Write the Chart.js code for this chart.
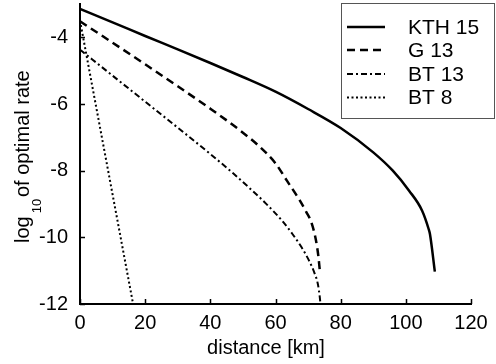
<!DOCTYPE html>
<html>
<head>
<meta charset="utf-8">
<script src="https://cdn.jsdelivr.net/npm/chart.js@4.4.0/dist/chart.umd.min.js"></script>
<style>
    html, body { margin: 0; padding: 0; background: #fff; }
    #wrap { width: 496px; height: 364px; }
</style>
</head>
<body>
<div id="wrap"><canvas id="rate-chart" width="496" height="364"></canvas></div>
<script>
// distance [km] vs log10 of optimal rate
const kthKm  = [0, 10, 20, 30, 40, 50, 60, 70, 80, 90, 96, 101, 105, 107, 107.4, 108.9];
const kthLog = [-3.15, -3.55, -3.96, -4.36, -4.77, -5.19, -5.63, -6.15, -6.72, -7.45, -8.0, -8.6, -9.2, -9.75, -9.9, -11.03];

const g13Km  = [0, 10, 20, 30, 40, 50, 55, 60, 63.5, 67.3, 69.5, 71, 72.4, 73.2, 73.6];
const g13Log = [-3.52, -4.16, -4.81, -5.47, -6.14, -6.86, -7.27, -7.78, -8.3, -8.87, -9.25, -9.55, -10.08, -10.6, -11.0];

const bt13Km  = [0, 10, 20, 30, 40, 47, 52, 57, 62, 65.2, 68, 70.3, 72, 73, 73.6, 73.8];
const bt13Log = [-4.37, -5.15, -5.93, -6.71, -7.5, -8.08, -8.52, -8.98, -9.5, -9.9, -10.3, -10.7, -11.08, -11.4, -11.8, -12];

const bt8Km  = [0, 16.3];
const bt8Log = [-3.5, -12];

const seriesNames = ['KTH 15', 'G 13', 'BT 13', 'BT 8'];
const xTicks = [0, 20, 40, 60, 80, 100, 120];
const yTicks = [-12, -10, -8, -6, -4];

const FONT = "'Liberation Sans', Arial, Helvetica, sans-serif";

function toPoints(xs, ys) {
    return xs.map((x, i) => ({ x: x, y: ys[i] }));
}

// small tick marks pointing into the plot
const inwardTicks = {
    id: 'inwardTicks',
    afterDraw(chart) {
        const { ctx, chartArea, scales } = chart;
        ctx.save();
        ctx.strokeStyle = '#000';
        ctx.lineWidth = 1.5;
        ctx.beginPath();
        xTicks.forEach(v => {
            const px = Math.round(scales.x.getPixelForValue(v)) + 0.5;
            ctx.moveTo(px, chartArea.bottom);
            ctx.lineTo(px, chartArea.bottom - 5);
        });
        yTicks.forEach(v => {
            const py = Math.round(scales.y.getPixelForValue(v)) + 0.5;
            ctx.moveTo(chartArea.left, py);
            ctx.lineTo(chartArea.left + 5, py);
        });
        ctx.stroke();
        ctx.restore();
    }
};

// axis titles, the y one with a subscript 10
const axisTitles = {
    id: 'axisTitles',
    afterDraw(chart) {
        const ctx = chart.ctx;
        ctx.save();
        ctx.fillStyle = '#000';
        ctx.textBaseline = 'alphabetic';

        ctx.font = '20px ' + FONT;
        ctx.textAlign = 'center';
        ctx.fillText('distance [km]', 266, 354);

        ctx.translate(29, 243);
        ctx.rotate(-Math.PI / 2);
        ctx.textAlign = 'left';
        ctx.font = '20px ' + FONT;
        ctx.fillText('log', 0, 0);
        let x = ctx.measureText('log').width + 3;
        ctx.font = '13px ' + FONT;
        ctx.fillText('10', x, 12);
        ctx.font = '20px ' + FONT;
        ctx.fillText('of optimal rate', 46, 0);
        ctx.restore();
    }
};

// framed legend in the upper right corner
const boxLegend = {
    id: 'boxLegend',
    afterDraw(chart) {
        const ctx = chart.ctx;
        const rows = [27, 50, 74, 97.5];
        ctx.save();
        ctx.fillStyle = '#fff';
        ctx.fillRect(341, 3, 154, 116);
        ctx.strokeStyle = '#555';
        ctx.lineWidth = 1;
        ctx.strokeRect(341.5, 3.5, 153, 115);

        chart.data.datasets.forEach((ds, i) => {
            ctx.strokeStyle = '#000';
            ctx.lineWidth = ds.borderWidth;
            ctx.setLineDash(ds.borderDash || []);
            ctx.beginPath();
            ctx.moveTo(347, rows[i]);
            ctx.lineTo(385, rows[i]);
            ctx.stroke();

            ctx.setLineDash([]);
            ctx.fillStyle = '#000';
            ctx.font = '21px ' + FONT;
            ctx.textAlign = 'left';
            ctx.textBaseline = 'middle';
            ctx.fillText(ds.label, 408, rows[i] + 1);
        });
        ctx.restore();
    }
};

function renderRateChart() {
    const ctx = document.getElementById('rate-chart');
    if (!ctx) return;

    new Chart(ctx, {
        type: 'line',
        data: {
            datasets: [
                {
                    label: seriesNames[0],
                    data: toPoints(kthKm, kthLog),
                    borderColor: '#000',
                    borderWidth: 2.5,
                    borderDash: [],
                    cubicInterpolationMode: 'monotone'
                },
                {
                    label: seriesNames[1],
                    data: toPoints(g13Km, g13Log),
                    borderColor: '#000',
                    borderWidth: 2.5,
                    borderDash: [8, 5],
                    cubicInterpolationMode: 'monotone'
                },
                {
                    label: seriesNames[2],
                    data: toPoints(bt13Km, bt13Log),
                    borderColor: '#000',
                    borderWidth: 2,
                    borderDash: [6, 3, 2, 3],
                    cubicInterpolationMode: 'monotone'
                },
                {
                    label: seriesNames[3],
                    data: toPoints(bt8Km, bt8Log),
                    borderColor: '#000',
                    borderWidth: 2,
                    borderDash: [2, 2.5]
                }
            ]
        },
        options: {
            responsive: false,
            animation: false,
            devicePixelRatio: 1,
            elements: {
                point: { radius: 0 }
            },
            layout: {
                padding: { top: 4, right: 25, bottom: 0, left: 0 }
            },
            plugins: {
                legend: { display: false },
                tooltip: { enabled: false },
                title: { display: false }
            },
            scales: {
                x: {
                    type: 'linear',
                    min: 0,
                    max: 120,
                    afterBuildTicks: s => { s.ticks = xTicks.map(v => ({ value: v })); },
                    afterFit: s => { s.height = 60; s.paddingLeft = 0; s.paddingRight = 0; },
                    grid: { display: false, drawTicks: false },
                    border: { display: true, color: '#000', width: 2 },
                    ticks: {
                        color: '#000',
                        font: { family: FONT, size: 20 },
                        padding: 7,
                        maxRotation: 0,
                        autoSkip: false
                    }
                },
                y: {
                    type: 'linear',
                    min: -12,
                    max: -3,
                    afterBuildTicks: s => { s.ticks = yTicks.map(v => ({ value: v })); },
                    afterFit: s => { s.width = 80; s.paddingTop = 0; s.paddingBottom = 0; },
                    grid: { display: false, drawTicks: false },
                    border: { display: true, color: '#000', width: 2 },
                    ticks: {
                        color: '#000',
                        font: { family: FONT, size: 20 },
                        padding: 12,
                        autoSkip: false
                    }
                }
            }
        },
        plugins: [inwardTicks, axisTitles, boxLegend]
    });
}

renderRateChart();
</script>
</body>
</html>
